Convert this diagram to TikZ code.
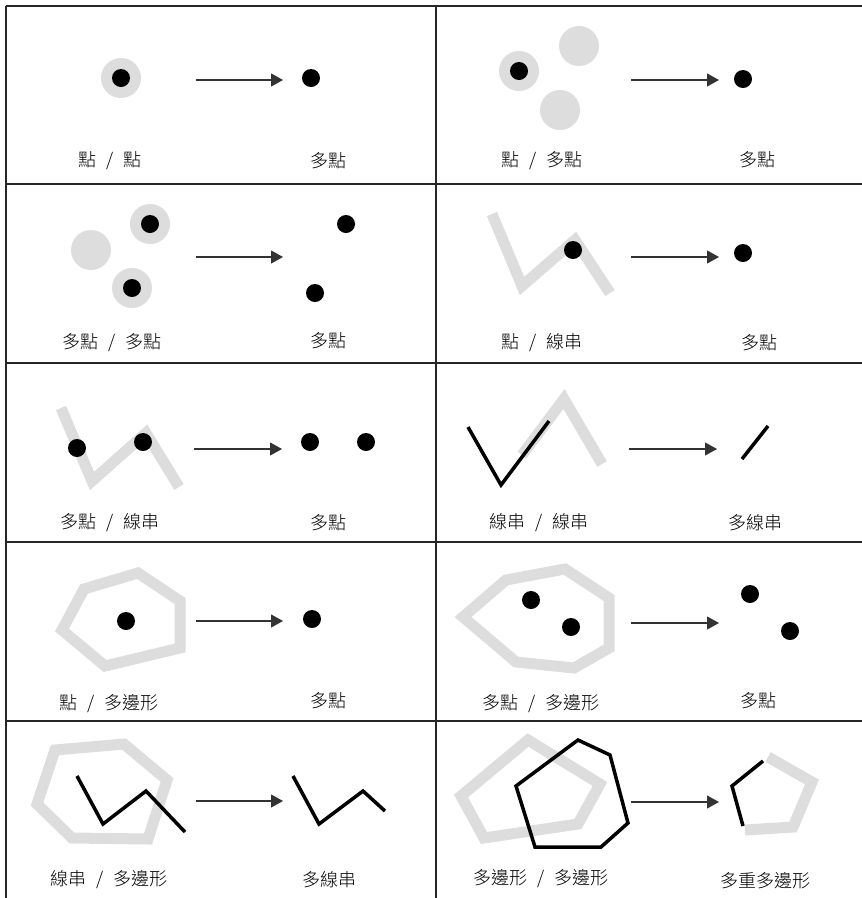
\documentclass[tikz,border=0pt]{standalone}
\usepackage{fontspec}
\newfontfamily\cjk{Noto Sans CJK TC Light}
\usetikzlibrary{arrows.meta}

\definecolor{bandgray}{HTML}{DDDDDD}
\newcommand{\sepr}{\hspace{0.55em}/\hspace{0.55em}}

\tikzset{
  frame/.style={line width=1.2pt, black!85},
  band/.style={line width=11pt, bandgray, line join=miter},
  geom/.style={line width=3.5pt, black, line join=miter},
  flow/.style={line width=1.1pt, black!80, -{Triangle[length=12pt,width=13pt]}},
  lbl/.style={font=\cjk\fontsize{18}{18}\selectfont},
}

\begin{document}
\begin{tikzpicture}[x=1pt,y=-1pt]

        \useasboundingbox (0,0) rectangle (862,898);

        % Grid
        \draw[frame] (6,6) -- (862,6);
        \draw[frame] (6,184) -- (862,184);
        \draw[frame] (6,363) -- (862,363);
        \draw[frame] (6,542) -- (862,542);
        \draw[frame] (6,721) -- (862,721);
        \draw[frame] (6,6) -- (6,898);
        \draw[frame] (436,6) -- (436,898);

        % Point / point
        \fill[bandgray] (121,78) circle (20pt);
        \fill (121,78) circle (9pt);
        \coordinate (s1) at (196,80);
        \coordinate (e1) at (283,80);
        \draw[flow] (s1) -- (e1);
        \fill (311,78) circle (9pt);
        \node[lbl] (in1) at (110,161) {點\sepr 點};
        \node[lbl] (out1) at (328,161) {多點};

        % Point / multipoint
        \fill[bandgray] (519,71) circle (20pt);
        \fill[bandgray] (579,46) circle (20pt);
        \fill[bandgray] (560,110) circle (20pt);
        \fill (519,71) circle (9pt);
        \coordinate (s2) at (631,80);
        \coordinate (e2) at (719,80);
        \draw[flow] (s2) -- (e2);
        \fill (743,79) circle (9pt);
        \node[lbl] (in2) at (542,161) {點\sepr 多點};
        \node[lbl] (out2) at (757,160) {多點};

        % Multipoint / multipoint
        \fill[bandgray] (91,250) circle (20pt);
        \fill[bandgray] (150,224) circle (20pt);
        \fill[bandgray] (132,288) circle (20pt);
        \fill (150,224) circle (9pt);
        \fill (132,288) circle (9pt);
        \coordinate (s3) at (196,257);
        \coordinate (e3) at (283,257);
        \draw[flow] (s3) -- (e3);
        \fill (346,224) circle (9pt);
        \fill (315,293) circle (9pt);
        \node[lbl] (in3) at (112,343) {多點\sepr 多點};
        \node[lbl] (out3) at (328,341) {多點};

        % Point / linestring
        \draw[band] (492,214) -- (522,286) -- (575,240) -- (610,293);
        \fill (573,250) circle (9pt);
        \coordinate (s4) at (631,257);
        \coordinate (e4) at (719,257);
        \draw[flow] (s4) -- (e4);
        \fill (743,253) circle (9pt);
        \node[lbl] (in4) at (542,343) {點\sepr 線串};
        \node[lbl] (out4) at (759,343) {多點};

        % Multipoint / linestring
        \draw[band] (61,408) -- (92,481) -- (146,433) -- (179,487);
        \fill (77,448) circle (9pt);
        \fill (143,442) circle (9pt);
        \coordinate (s5) at (194,449);
        \coordinate (e5) at (282,449);
        \draw[flow] (s5) -- (e5);
        \fill (310,442) circle (9pt);
        \fill (366,442) circle (9pt);
        \node[lbl] (in5) at (110,523) {多點\sepr 線串};
        \node[lbl] (out5) at (328,523) {多點};

        % Linestring / linestring
        \draw[band] (522,455) -- (564,399) -- (602,464);
        \draw[geom] (468,427) -- (501,485) -- (549,421);
        \coordinate (s6) at (629,449);
        \coordinate (e6) at (717,449);
        \draw[flow] (s6) -- (e6);
        \draw[geom] (742,459) -- (768,426);
        \node[lbl] (in6) at (539,523) {線串\sepr 線串};
        \node[lbl] (out6) at (755,523) {多線串};

        % Point / polygon
        \draw[band] (138,573) -- (180,601) -- (180,648) -- (105,666)
            -- (62,630) -- (84,589) -- cycle;
        \fill (126,621) circle (9pt);
        \coordinate (s7) at (196,621);
        \coordinate (e7) at (283,621);
        \draw[flow] (s7) -- (e7);
        \fill (312,619) circle (9pt);
        \node[lbl] (in7) at (109,704) {點\sepr 多邊形};
        \node[lbl] (out7) at (328,701) {多點};

        % Multipoint / polygon
        \draw[band] (565,569) -- (609,598) -- (609,648) -- (574,668)
            -- (516,662) -- (463,617) -- (506,580) -- cycle;
        \fill (531,600) circle (9pt);
        \fill (571,627) circle (9pt);
        \coordinate (s8) at (631,623);
        \coordinate (e8) at (719,623);
        \draw[flow] (s8) -- (e8);
        \fill (750,594) circle (9pt);
        \fill (790,631) circle (9pt);
        \node[lbl] (in8) at (541,704) {多點\sepr 多邊形};
        \node[lbl] (out8) at (758,701) {多點};

        % Linestring / polygon
        \draw[band] (55,750) -- (124,744) -- (167,780) -- (148,839)
            -- (72,838) -- (37,804) -- cycle;
        \draw[geom] (77,776) -- (103,824) -- (146,791) -- (185,832);
        \coordinate (s9) at (196,801);
        \coordinate (e9) at (283,801);
        \draw[flow] (s9) -- (e9);
        \draw[geom] (293,776) -- (319,824) -- (363,791) -- (385,811);
        \node[lbl] (in9) at (109,880) {線串\sepr 多邊形};
        \node[lbl] (out9) at (329,880) {多線串};

        % Polygon / polygon
        \draw[band] (528,740) -- (600,784) -- (578,824) -- (484,838)
            -- (461,796) -- cycle;
        \draw[geom] (516,786) -- (578,740) -- (610,755) -- (628,823)
            -- (601,847) -- (535,847) -- cycle;
        \coordinate (s10) at (631,802);
        \coordinate (e10) at (719,802);
        \draw[flow] (s10) -- (e10);
        \draw[band] (768,757) -- (812,782) -- (793,827) -- (745,830);
        \draw[geom] (763,761) -- (732,786) -- (743,826);
        \node[lbl] (in10) at (541,879) {多邊形\sepr 多邊形};
        \node[lbl] (out10) at (765,881) {多重多邊形};

    \end{tikzpicture}
\end{document}
